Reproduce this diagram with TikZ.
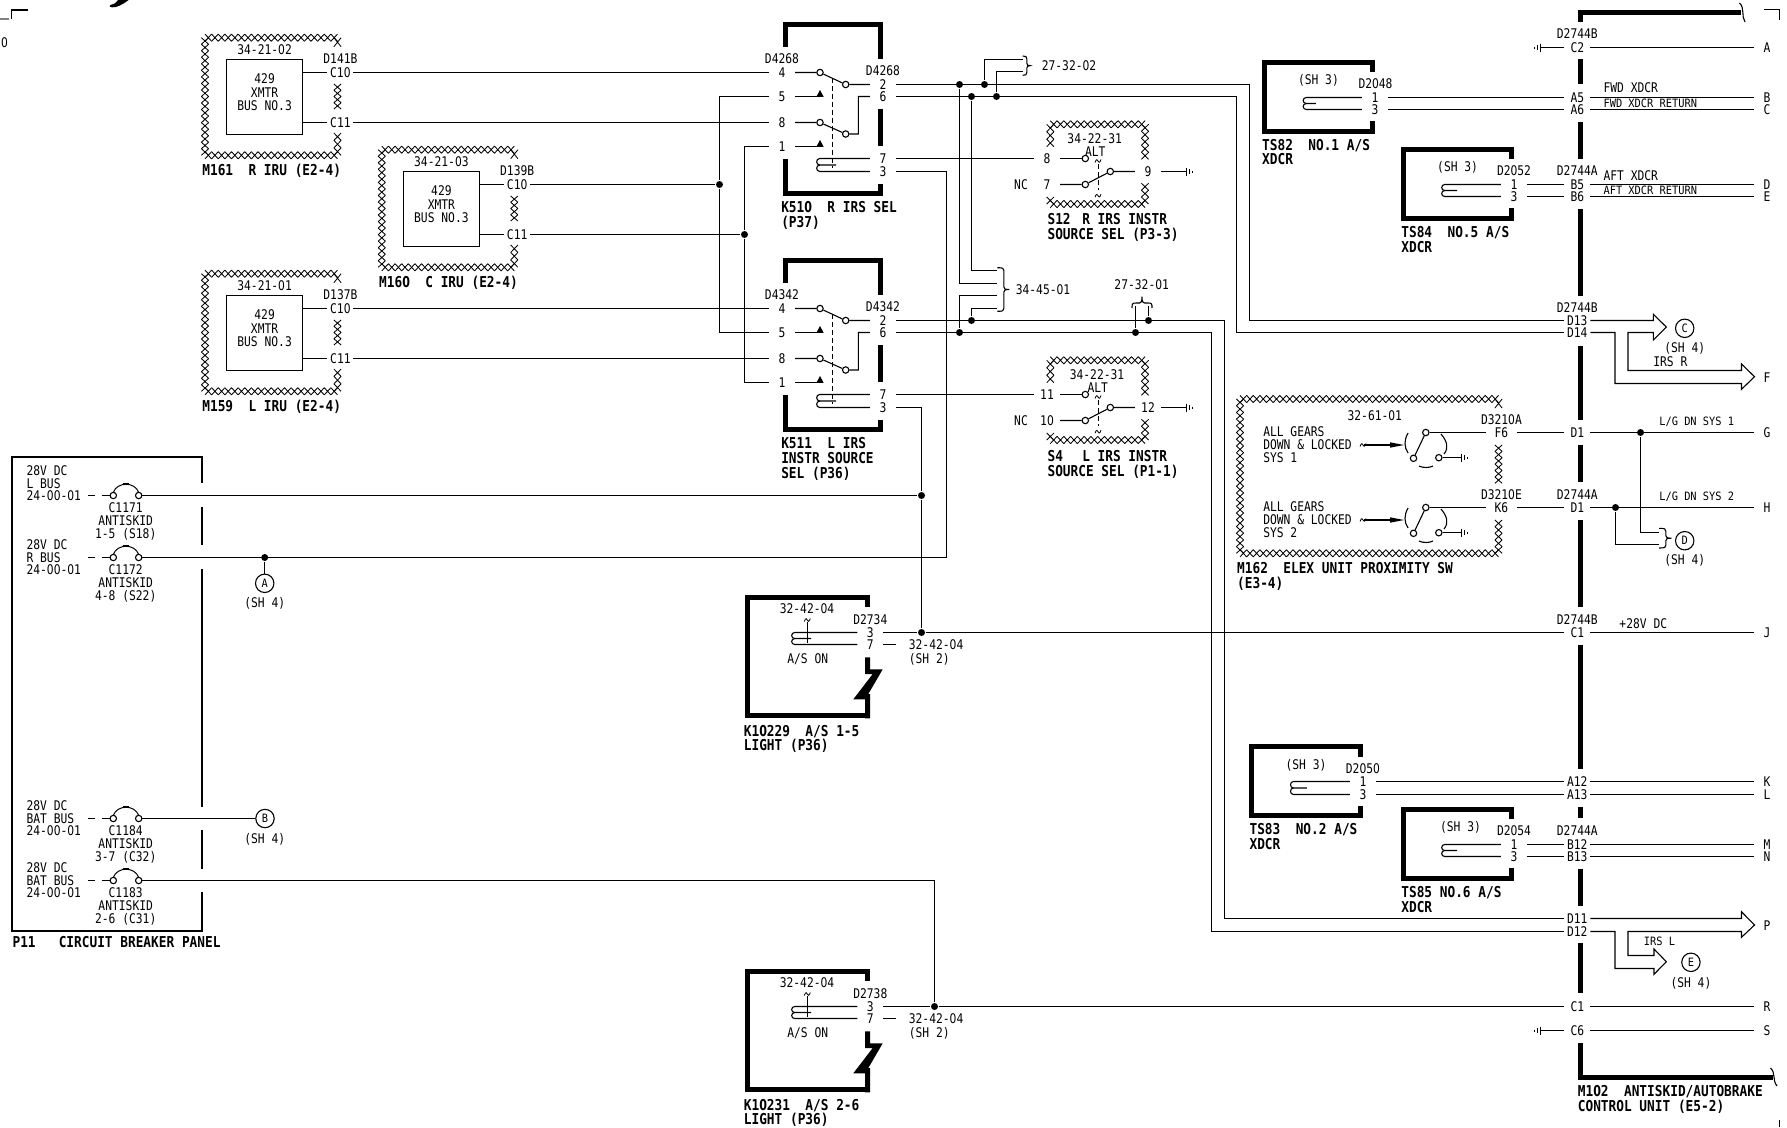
\documentclass[tikz,border=0pt]{standalone}
\usepackage{fontspec}
\newfontfamily\regf[FakeStretch=0.85]{DejaVu Sans Mono}
\newfontfamily\boldf[FakeStretch=0.853,UprightFont=* Bold]{DejaVu Sans Mono}
\newfontfamily\smallf[FakeStretch=0.9]{DejaVu Sans Mono}
\newfontfamily\regz[FakeStretch=0.805]{DejaVu Sans}
\newfontfamily\boldz[FakeStretch=0.738,UprightFont=* Bold]{DejaVu Sans}
\newfontfamily\smallz[FakeStretch=0.852]{DejaVu Sans}
\newcommand\fr{\regf\fontsize{13.3}{15}\selectfont\def\curf{\regf\fontsize{13.3}{15}\selectfont}\def\zerof{\regz\fontsize{13.3}{15}\selectfont}}
\newcommand\fb{\boldf\fontsize{15}{17}\selectfont\def\curf{\boldf\fontsize{15}{17}\selectfont}\def\zerof{\boldz\fontsize{15}{17}\selectfont}}
\newcommand\fs{\smallf\fontsize{11.5}{13}\selectfont\def\curf{\smallf\fontsize{11.5}{13}\selectfont}\def\zerof{\smallz\fontsize{11.5}{13}\selectfont}}
\newXeTeXintercharclass\zeroclass
\XeTeXcharclass`0=\zeroclass
\XeTeXinterchartoks 0 \zeroclass={\zerof}
\XeTeXinterchartoks \zeroclass 0={\curf}
\XeTeXinterchartoks 4095 \zeroclass={\zerof}
\XeTeXinterchartoks \zeroclass 4095={\curf}
\XeTeXinterchartokenstate=1
\newcounter{tc}
\newcommand\T[3][txt]{\stepcounter{tc}\node[#1] (t\arabic{tc}) at (#2) {#3};}
\tikzset{
 txt/.style={font=\fr,inner sep=0,text height=9.7pt,text depth=0pt},
 ltxt/.style={txt,anchor=west},
 rtxt/.style={txt,anchor=east},
 stxt/.style={font=\fs,inner sep=0,text height=8.4pt,text depth=0pt},
 sltxt/.style={stxt,anchor=west},
 bl/.style={font=\fb,inner sep=0,text height=10.9pt,text depth=0pt,anchor=west},
 pin/.style={txt,minimum width=25pt},
 widepin/.style={txt,minimum width=30pt},
 ring/.style={circle,draw,fill=white,inner sep=0,minimum size=6.4pt},
 dot/.style={circle,fill=black,inner sep=0,minimum size=7pt},
 oref/.style={circle,draw,inner sep=0,minimum size=18.4pt,font=\fs,text height=8.4pt,text depth=0pt},
 thk/.style={line width=5pt,line cap=butt,line join=miter},
 xch/.style={line width=.85pt},
 dsh/.style={dash pattern=on 5pt off 3pt,line width=.9pt},
}
% chain of crosses between two typed points
\def\hzp#1,#2;#3,#4;{%
 \pgfmathsetmacro\hl{veclen(#3-#1,#4-#2)}%
 \pgfmathtruncatemacro\hn{max(1,round(\hl/6.6))}%
 \pgfmathsetmacro\hdx{(#3-#1)/\hn}%
 \pgfmathsetmacro\hdy{(#4-#2)/\hn}%
 \pgfmathsetmacro\hax{3.6*(#4-#2)/\hl}%
 \pgfmathsetmacro\hay{3.6*(#3-#1)/\hl}%
 \draw[xch] \foreach \i [evaluate=\i as \p using int(\i-1)] in {1,...,\hn}{
  (#1+\hdx*\p+\hax,#2+\hdy*\p+\hay) -- (#1+\hdx*\i-\hax,#2+\hdy*\i-\hay)
  (#1+\hdx*\p-\hax,#2+\hdy*\p-\hay) -- (#1+\hdx*\i+\hax,#2+\hdy*\i+\hay)};}
\newcommand\hz[2]{\hzp#1;#2;}
% brace opening to the right: x top bottom reach
\newcommand\rbr[4]{\pgfmathsetmacro\bm{(#2+#3)/2}\pgfmathsetmacro\bh{#1+#4*.55}%
 \draw (#1,#2) .. controls (\bh-1,#2) and (\bh,#2+.5) .. (\bh,#2+3) -- (\bh,\bm-2.5) .. controls (\bh,\bm-.7) and (\bh+1,\bm) .. (#1+#4,\bm) .. controls (\bh+1,\bm) and (\bh,\bm+.7) .. (\bh,\bm+2.5) -- (\bh,#3-3) .. controls (\bh,#3-.5) and (\bh-1,#3) .. (#1,#3);}
\newcommand\gnd[3]{%
 \draw (#1,#2-4) -- (#1,#2+4);
 \draw (#1+#3*3.2,#2-2.6) -- (#1+#3*3.2,#2+2.6);
 \draw (#1+#3*6,#2-1) -- (#1+#3*6,#2+1);}
\newcommand\sq[2]{\draw[line width=.8pt] (#1-3,#2+1.5) .. controls (#1-1.5,#2-3) and (#1-.5,#2-1) .. (#1,#2) .. controls (#1+.5,#2+1) and (#1+1.5,#2+3) .. (#1+3,#2-1.5);}
\newcommand\coil[6]{%
 \pgfmathsetmacro\ym{(#5+#6)/2}
 \draw (#1.west) -- (#3+3,#5) .. controls (#3-1,#5) and (#3-1,\ym) .. (#3+3,\ym) -- (#4,\ym);
 \draw (#3+3,\ym) .. controls (#3-1,\ym) and (#3-1,#6) .. (#3+3,#6) -- (#2.west);}
\newcommand\tsf[4]{\draw[thk] (#2,#3+10) -- (#2,#3) -- (#1,#3) -- (#1,#4) -- (#2,#4) -- (#2,#4-10);}
\newcommand\iru[6]{\begin{scope}[shift={(#2,#3)}]
 \hz{205,37.7}{337.5,37.7}\hz{205,155.3}{337.5,155.3}\hz{205,37.7}{205,155.3}
 \hz{337.5,37.7}{337.5,46.7}\hz{337.5,84}{337.5,109}\hz{337.5,133}{337.5,155.3}
 \node[draw,minimum width=75.7pt,minimum height=74.7pt,inner sep=0] (#1box) at (264.6,96.7) {};
 \T{264.6,49.3}{#4}\T{264.6,79}{429}\T{264.6,92.3}{XMTR}\T{264.6,105.3}{BUS NO.3}
 \T{340.4,58.7}{#5}
 \node[pin] (#1c10) at (340.4,72.5) {C10};
 \node[pin] (#1c11) at (340.4,122.5) {C11};
 \draw (#1box.east |- #1c10) -- (#1c10.west);
 \draw (#1box.east |- #1c11) -- (#1c11.west);
 \T[bl]{201.8,170}{#6}
\end{scope}}
\newcommand\relay[3]{\begin{scope}[shift={(0,#2)}]
 \draw[thk] (785.2,46.7) -- (785.2,24.7) -- (880.7,24.7) -- (880.7,59);
 \draw[thk] (880.7,109.3) -- (880.7,146);
 \draw[thk] (785.2,159) -- (785.2,193) -- (880.7,193) -- (880.7,184);
 \T{782,58.3}{#3}\T{883,71}{#3}
 \node[pin] (#1p4) at (782,72.5) {4};
 \node[pin] (#1p5) at (782,96.5) {5};
 \node[pin] (#1p8) at (782,122.5) {8};
 \node[pin] (#1p1) at (782,146.5) {1};
 \node[pin] (#1p2) at (883,84.5) {2};
 \node[pin] (#1p6) at (883,96.5) {6};
 \node[pin] (#1p7) at (883,158.5) {7};
 \node[pin] (#1p3) at (883,171.5) {3};
 \draw[dsh] (832.7,78) -- (832.7,168);
 \node[ring] (#1ca) at (820,72.5) {};
 \node[ring] (#1cb) at (845.7,84.5) {};
 \node[ring] (#1cc) at (820,122.5) {};
 \node[ring] (#1cd) at (845.7,134) {};
 \coordinate (#1bend) at (858.3,115);
 \draw (#1p4.east) -- (#1ca) -- (#1cb) -- (#1p2.west);
 \draw (#1p8.east) -- (#1cc) -- (#1cd) -| (#1bend) |- (#1p6.west);
 \draw (#1p5.east) -- (820,96.5); \fill (816.3,96.9) -- (820,90) -- (823.7,96.9) -- cycle;
 \draw (#1p1.east) -- (820,146.5); \fill (816.3,146.9) -- (820,140) -- (823.7,146.9) -- cycle;
 \coil{#1p7}{#1p3}{816.7}{836}{158.5}{171.5}
\end{scope}}
\newcommand\swt[7]{\begin{scope}[shift={(0,#2)}]
 \hz{1050.3,124.3}{1145,124.3}\hz{1050.3,204}{1145,204}
 \hz{1050.3,124.3}{1050.3,146.7}\hz{1145,124.3}{1145,159.3}\hz{1145,183.3}{1145,204}\hz{1050.3,197}{1050.3,204}
 \T{#6,138.3}{34-22-31}\T{#7,152}{ALT}
 \node[pin] (#1a) at (1047,158.5) {#3};
 \node[pin] (#1b) at (1047,184.5) {#4};
 \node[pin] (#1c) at (1148,171.5) {#5};
 \T{1021,184.5}{NC}
 \draw[dsh] (1098,164) -- (1098,190);
 \sq{1098}{161}\sq{1098}{195.7}
 \node[ring] (#1ra) at (1085.3,158.5) {};
 \node[ring] (#1rb) at (1085.3,184.5) {};
 \node[ring] (#1rc) at (1110.3,171.5) {};
 \draw (#1a.east) -- (#1ra);
 \draw (#1b.east) -- (#1rb) -- (#1rc) -- (#1c.west);
 \coordinate (#1g) at (1186,171.5);
 \draw (#1c.east) -- (#1g);
 \gnd{1186.5}{171.5}{1}
\end{scope}}
\newcommand\lamp[3]{\begin{scope}[shift={(0,#2)}]
 \draw[thk] (867.5,606.7) -- (867.5,597.3) -- (747.3,597.3) -- (747.3,715.7) -- (867.5,715.7);
 \fill (865,657.3) -- (870,657.3) -- (870,669.3) -- (882.7,669.3) -- (868.3,694) -- (870,694) -- (870,718.3) -- (865,718.3) -- (865,699.3) -- (853.3,699.3) -- (872.7,674) -- (865,674) -- cycle;
 \T{807,608.3}{32-42-04}\T{870.3,620}{#3}\T{807.7,658.7}{A/S ON}
 \node[pin] (#1p3) at (870.3,632.5) {3};
 \node[pin] (#1p7) at (870.3,644.5) {7};
 \coil{#1p3}{#1p7}{791.7}{811}{632.5}{644.5}
 \draw (807.3,622) -- (807.3,642.5);
 \sq{807.3}{620}
 \coordinate (#1st) at (895.7,644.5);
 \draw (#1p7.east) -- (#1st);
 \T[ltxt]{908.3,645}{32-42-04}\T[ltxt]{908.3,658.3}{(SH 2)}
\end{scope}}
\newcommand\cb[6]{%
 \T[ltxt]{26,#2+#3-12.4}{28V DC}\T[ltxt]{26,#2+#3}{#4}\T[ltxt]{26,#2+#3+12.6}{24-00-01}
 \T{125.7,#2+12.2}{#5}\T{125.7,#2+25.3}{ANTISKID}\T{125.7,#2+38}{#6}
 \node[ring] (#1l) at (113.3,#2) {};
 \node[ring] (#1r) at (138.7,#2) {};
 \draw (88.3,#2) -- (95,#2);
 \draw (101.7,#2) -- (#1l);
 \draw[line width=1pt] (113.3,#2-3) .. controls (117,#2-14) and (135,#2-14) .. (138.7,#2-3);
 \draw[line width=1pt] (126,#2-11) -- (126,#2-12.5) (122.7,#2-12.5) -- (129.3,#2-12.5);}
\newcommand\prox[4]{\begin{scope}[shift={(0,#2)}]
 \T[ltxt]{1262.7,431.7}{ALL GEARS}\T[ltxt]{1262.7,444.7}{DOWN \& LOCKED}\T[ltxt]{1262.7,457.7}{SYS #3}
 \sq{1363}{445}
 \draw (1364,445) -- (1392,445);
 \fill (1390,442.3) -- (1404,445) -- (1390,447.7) -- cycle;
 \draw (1408,433) .. controls (1404,440) and (1404,447) .. (1408,453);
 \draw (1441,434) .. controls (1447,441) and (1449,448) .. (1444,454);
 \draw (1419,466) .. controls (1423,468) and (1429,468) .. (1433,466);
 \node[ring] (#1a) at (1425.8,432.5) {};
 \node[ring] (#1b) at (1413.5,458.3) {};
 \node[ring] (#1c) at (1438.8,457.7) {};
 \draw (#1a) -- (#1b);
 \coordinate (#1g) at (1461,457.7);
 \draw (#1c) -- (#1g);
 \gnd{1461.6}{457.7}{1}
 \node[widepin] (#1pin) at (1501.4,432.5) {#4};
 \draw (#1a) -- (#1pin.west);
\end{scope}}
\begin{document}
\begin{tikzpicture}[x=1pt,y=-1pt,line width=1.1pt]
\useasboundingbox (0,0) rectangle (1787,1127);
\draw (11.8,19) -- (11.8,10) -- (27.9,10);
\draw[gray] (0,19) -- (8.6,19);
\T[rtxt]{8.6,43}{0}
\fill (128.6,0) .. controls (122,5) and (116,8) .. (112,7.3) .. controls (109,7) and (109,5) .. (110.5,5) .. controls (113,5) and (116,3) .. (118,0) -- cycle;
\draw (1764.3,9.7) -- (1779.9,9.7) -- (1779.9,20);
\draw (1779.9,1120) -- (1779.9,1127);
\iru{mA}{0}{0}{34-21-02}{D141B}{M161~~R IRU (E2-4)}
\iru{mC}{176.8}{112}{34-21-03}{D139B}{M160~~C IRU (E2-4)}
\iru{mL}{0}{236}{34-21-01}{D137B}{M159~~L IRU (E2-4)}
\relay{kR}{0}{D4268}
\relay{kL}{236}{D4342}
\T[bl]{780.7,206.7}{K510~~R IRS SEL}\T[bl]{780.7,221.7}{(P37)}
\T[bl]{780.7,443}{K511~~L IRS}\T[bl]{780.7,458.3}{INSTR SOURCE}\T[bl]{780.7,472.7}{SEL (P36)}
\swt{sR}{0}{8}{7}{9}{1094.7}{1095.3}
\swt{sL}{236}{11}{10}{12}{1097}{1097.7}
\T[bl]{1047,219}{S12\hspace*{11.6pt}R IRS INSTR}\T[bl]{1047,234}{SOURCE SEL (P3-3)}
\T[bl]{1047,455.7}{S4\hspace*{19.3pt}L IRS INSTR}\T[bl]{1047,470.7}{SOURCE SEL (P1-1)}
\lamp{lA}{0}{D2734}
\lamp{lB}{374}{D2738}
\T[bl]{743.3,730.7}{K10229~~A/S 1-5}\T[bl]{743.3,745}{LIGHT (P36)}
\T[bl]{743.3,1104.7}{K10231~~A/S 2-6}\T[bl]{743.3,1119}{LIGHT (P36)}
\draw[line width=1.8pt] (202,483) -- (202,457.3) -- (12.3,457.3) -- (12.3,930.7) -- (202,930.7) -- (202,892.3);
\draw[line width=1.8pt] (202,506.7) -- (202,545) (202,569) -- (202,806.7) (202,830) -- (202,869);
\cb{cbA}{495.5}{-12}{L BUS}{C1171}{1-5 (S18)}
\cb{cbB}{557.5}{0}{R BUS}{C1172}{4-8 (S22)}
\cb{cbC}{818.5}{0}{BAT BUS}{C1184}{3-7 (C32)}
\cb{cbD}{880.5}{0}{BAT BUS}{C1183}{2-6 (C31)}
\T[bl]{12,942}{P11~~~CIRCUIT BREAKER PANEL}
\node[dot] (jA) at (264.7,557.5) {};
\node[oref] (refA) at (264.7,583.3) {A};
\node[oref] (refB) at (265,818.5) {B};
\draw (jA) -- (refA);
\draw (cbCr) -- (refB);
\T{264.7,602.7}{(SH 4)}\T{264.7,838.7}{(SH 4)}
\draw[thk] (1580.6,22) -- (1580.6,12.7) -- (1740.8,12.7);
\draw[thk] (1580.6,1043.3) -- (1580.6,1077.3) -- (1773.3,1077.3);
\foreach \a/\b in {59.3/84,121.7/158.7,209/296,345.7/420,445/482.3,520/607.3,645/769.3,806.7/818.3,869/905.7,943.3/993.3}{\draw[thk] (1580.6,\a) -- (1580.6,\b);}
\draw (1739.5,3) .. controls (1745,8) and (1741,16) .. (1745,22);
\draw (1770.5,1068) .. controls (1776,1073) and (1772,1080) .. (1777,1086);
\T[bl]{1577.3,1091}{M102~~ANTISKID/AUTOBRAKE}\T[bl]{1577.3,1106}{CONTROL UNIT (E5-2)}
\T{1577.3,33.3}{D2744B}\T{1577.3,170.7}{D2744A}\T{1577.3,307.3}{D2744B}\T{1577.3,495}{D2744A}\T{1577.3,619.7}{D2744B}\T{1577.3,830.3}{D2744A}
\foreach \n/\l/\y in {c2/C2/47.5,a5/A5/97.5,a6/A6/109.5,b5/B5/184.5,b6/B6/196.5,d13/D13/320.5,d14/D14/332.5,d1a/D1/432.5,d1b/D1/507.5,c1a/C1/632.5,a12/A12/781.5,a13/A13/794.5,b12/B12/844.5,b13/B13/856.5,d11/D11/918.5,d12/D12/931.5,c1b/C1/1006.5,c6/C6/1030.5}{\node[pin] (m\n) at (1577.3,\y) {\l};}
\foreach \n/\l/\y in {A/A/47.5,B/B/97.5,C/C/109.5,D/D/184.5,E/E/196.5,G/G/432.5,H/H/507.5,J/J/632.5,K/K/781.5,L/L/794.5,M/M/844.5,N/N/856.5,R/R/1006.5,S/S/1030.5}{\node[pin] (out\n) at (1767,\y) {\l};}
\node[pin] (outF) at (1767,377.3) {F};
\node[pin] (outP) at (1767,925.7) {P};
\foreach \n/\o in {c2/A,a5/B,a6/C,b5/D,b6/E,d1a/G,d1b/H,c1a/J,a12/K,a13/L,b12/M,b13/N,c1b/R,c6/S}{\draw (m\n.east) -- (out\o.west);}
\coordinate (gA) at (1541,47.5);\coordinate (gB) at (1541,1030.5);
\draw (mc2.west) -- (gA);\draw (mc6.west) -- (gB);
\gnd{1540.4}{47.5}{-1}\gnd{1540.4}{1030.5}{-1}
\T[ltxt]{1603,87.7}{FWD XDCR}\T[sltxt]{1603,103.3}{FWD XDCR RETURN}
\T[ltxt]{1603,175.7}{AFT XDCR}\T[sltxt]{1603,190}{AFT XDCR RETURN}
\T[stxt]{1696.7,421}{L/G DN SYS 1}\T[stxt]{1696.7,496}{L/G DN SYS 2}
\T[ltxt]{1618.9,624}{+28V DC}
\tsf{1264.5}{1372.3}{62}{131}
\T{1318.4,79.3}{(SH 3)}\T{1375.5,83.3}{D2048}
\node[pin] (tAa) at (1375,97.5) {1};\node[pin] (tAb) at (1375,109.5) {3};
\coil{tAa}{tAb}{1303.2}{1315.8}{97.5}{109.5}
\draw (tAa.east) -- (ma5.west);\draw (tAb.east) -- (ma6.west);
\T[bl]{1261.6,145}{TS82~~NO.1 A/S}\T[bl]{1261.6,159.3}{XDCR}
\tsf{1403.7}{1511.5}{149}{218.3}
\T{1457.6,166.3}{(SH 3)}\T{1514,170.7}{D2052}
\node[pin] (tBa) at (1514,184.5) {1};\node[pin] (tBb) at (1514,196.5) {3};
\coil{tBa}{tBb}{1441.7}{1457}{184.5}{196.5}
\draw (tBa.east) -- (mb5.west);\draw (tBb.east) -- (mb6.west);
\T[bl]{1400.8,231.7}{TS84~~NO.5 A/S}\T[bl]{1400.8,247}{XDCR}
\tsf{1251.8}{1360.3}{746.7}{815.7}
\T{1306,764.3}{(SH 3)}\T{1362.9,768.3}{D2050}
\node[pin] (tCa) at (1362.9,781.5) {1};\node[pin] (tCb) at (1362.9,794.5) {3};
\coil{tCa}{tCb}{1290.5}{1306.8}{781.5}{794.5}
\draw (tCa.east) -- (ma12.west);\draw (tCb.east) -- (ma13.west);
\T[bl]{1249,829}{TS83~~NO.2 A/S}\T[bl]{1249,844}{XDCR}
\tsf{1403.7}{1511.5}{809}{878.3}
\T{1460.5,826.3}{(SH 3)}\T{1514,830.3}{D2054}
\node[pin] (tDa) at (1514,844.5) {1};\node[pin] (tDb) at (1514,856.5) {3};
\coil{tDa}{tDb}{1441.7}{1457}{844.5}{856.5}
\draw (tDa.east) -- (mb12.west);\draw (tDb.east) -- (mb13.west);
\T[bl]{1400.8,891.7}{TS85 NO.6 A/S}\T[bl]{1400.8,906.7}{XDCR}
\hz{1240,399}{1498.5,399}\hz{1240,553.3}{1498.5,553.3}\hz{1240,399}{1240,553.3}
\hz{1498.5,399}{1498.5,408}\hz{1498.5,445}{1498.5,483.3}\hz{1498.5,520}{1498.5,553.3}
\T{1374.8,415.7}{32-61-01}\T{1501.4,420}{D3210A}\T{1501.4,495}{D3210E}
\prox{pA}{0}{1}{F6}
\prox{pB}{75}{2}{K6}
\draw (pApin.east) -- (md1a.west);\draw (pBpin.east) -- (md1b.west);
\T[bl]{1236.6,568.3}{M162~~ELEX UNIT PROXIMITY SW}\T[bl]{1236.6,583.3}{(E3-4)}
\draw (mAc10.east) -- (kRp4.west);
\draw (mAc11.east) -- (kRp8.west);
\draw (mLc10.east) -- (kLp4.west);
\draw (mLc11.east) -- (kLp8.west);
\node[dot] (jP5) at (719.5,184.5) {};
\node[dot] (jP1) at (744.5,234.5) {};
\draw (mCc10.east) -- (jP5);
\draw (mCc11.east) -- (jP1);
\draw (kRp5.west) -| (jP5) |- (kLp5.west);
\draw (kRp1.west) -| (jP1) |- (kLp1.west);
\coordinate (bA) at (1249.5,200);\coordinate (bB) at (1236.5,200);
\coordinate (bC) at (1224.5,600);\coordinate (bD) at (1211.5,600);
\draw (kRp2.east) -| (bA) |- (md13.west);
\draw (kRp6.east) -| (bB) |- (md14.west);
\draw (kLp2.east) -| (bC) |- (md11.west);
\draw (kLp6.east) -| (bD) |- (md12.west);
\node[dot] (j1) at (959.5,84.5) {};
\node[dot] (j2) at (984.5,84.5) {};
\node[dot] (j3) at (971.5,96.5) {};
\node[dot] (j4) at (996.5,96.5) {};
\node[dot] (j5) at (959.5,332.5) {};
\node[dot] (j6) at (971.5,320.5) {};
\node[dot] (j7) at (1135.5,332.5) {};
\node[dot] (j8) at (1148.5,320.5) {};
\coordinate (br1) at (1022.7,59.5);\coordinate (br2) at (1022.7,71.5);
\draw (j2) |- (br1);\draw (j4) |- (br2);
\rbr{1022.7}{56}{75.3}{7.5}
\T{1069,66}{27-32-02}
\coordinate (br3) at (997.3,270.5);\coordinate (br4) at (997.3,283.5);\coordinate (br5) at (997.3,295.5);\coordinate (br6) at (997.3,308.5);
\draw (j3) |- (br3);\draw (j1) |- (br4);\draw (j5) |- (br5);\draw (j6) |- (br6);
\rbr{997.3}{267.7}{311.3}{12}
\T{1043,290}{34-45-01}
\coordinate (br7) at (1135.5,306);\coordinate (br8) at (1148.5,306);
\draw (j7) -- (br7);\draw (j8) -- (br8);
\draw (1132,308) .. controls (1132,304) and (1132,303) .. (1136,303) -- (1139.5,303) .. controls (1141,303) and (1142,302) .. (1142,296.7) .. controls (1142,302) and (1143,303) .. (1144.5,303) -- (1148,303) .. controls (1152,303) and (1152,304) .. (1152,308);
\T{1141.7,285}{27-32-01}
\draw (kRp7.east) -- (sRa.west);
\draw (kLp7.east) -- (sLa.west);
\coordinate (bE) at (946.5,300);
\node[dot] (j921a) at (921.5,495.5) {};
\node[dot] (j921b) at (921.5,632.5) {};
\node[dot] (j934) at (934.5,1006.5) {};
\draw (kRp3.east) -| (bE) |- (cbBr);
\draw (cbAr) -- (j921a);
\draw (kLp3.east) -| (j921a) -- (j921b);
\draw (lAp3.east) -- (j921b) -- (mc1a.west);
\draw (lBp3.east) -- (j934) -- (mc1b.west);
\draw (cbDr) -| (j934);
\node[dot] (jG) at (1640.5,432.5) {};
\node[dot] (jH) at (1615.5,507.5) {};
\coordinate (br9) at (1659,532.5);\coordinate (br10) at (1659,544.5);
\draw (jG) |- (br9);\draw (jH) |- (br10);
\rbr{1659}{528.3}{548}{12.5}
\node[oref] (refD) at (1684.7,540.7) {D};
\T{1684.7,559.3}{(SH 4)}
\draw (md13.east) -- (1653.3,320.5) -- (1653.3,314.3) -- (1666.3,327) -- (1653.3,340) -- (1653.3,332.5) -- (1628,332.5) -- (1628,370.5) -- (1741.5,370.5) -- (1741.5,364) -- (1754.5,376.7) -- (1741.5,389.3) -- (1741.5,383.5) -- (1615,383.5) -- (1615,332.5) -- (md14.east);
\node[oref] (refC) at (1684.7,328.3) {C};
\T{1684.7,347.7}{(SH 4)}
\T{1670.3,361.7}{IRS R}
\draw (md11.east) -- (1741.5,918.5) -- (1741.5,911.7) -- (1754.5,925) -- (1741.5,937.3) -- (1741.5,931.5) -- (1628,931.5) -- (1628,955.5) -- (1654,955.5) -- (1654,949) -- (1666.3,961.7) -- (1654,974.3) -- (1654,968.5) -- (1615,968.5) -- (1615,931.5) -- (md12.east);
\T[stxt]{1659.4,941}{IRS L}
\node[oref] (refE) at (1690.9,962.3) {E};
\T{1690.9,982.3}{(SH 4)}
\end{tikzpicture}
\end{document}
